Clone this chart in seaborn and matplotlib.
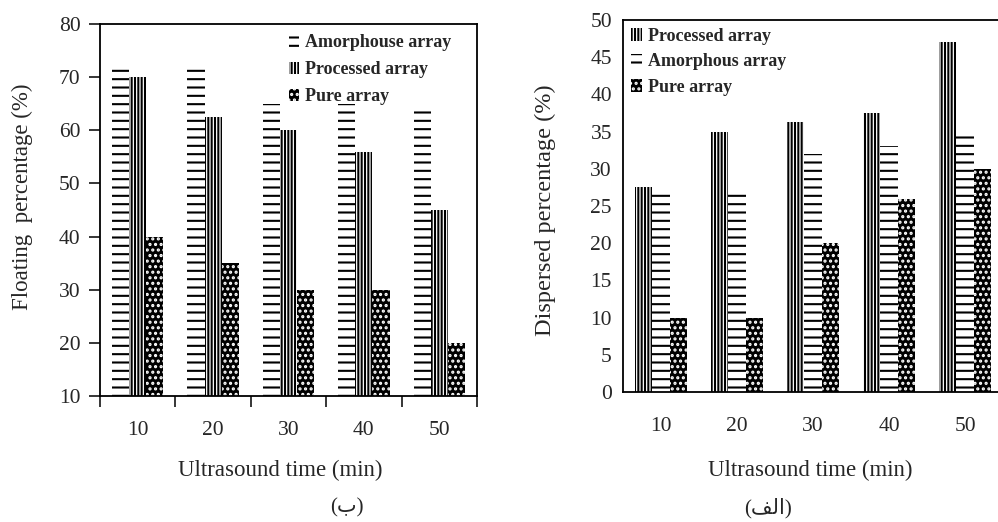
import pandas as pd
import seaborn as sns
import matplotlib.pyplot as plt
from matplotlib.patches import Patch

times = ["10", "20", "30", "40", "50"]

# left panel - floating percentage
float_amorph = [72, 72, 65, 65, 64]
float_proc = [70, 62.5, 60, 56, 45]
float_pure = [40, 35, 30, 30, 20]

# right panel - dispersed percentage
disp_proc = [27.5, 35, 36.3, 37.5, 47]
disp_amorph = [27, 27, 32, 33, 35]
disp_pure = [10, 10, 20, 26, 30]

sns.set_style("white")
plt.rcParams["font.family"] = ["Liberation Serif", "DejaVu Sans"]
plt.rcParams["hatch.linewidth"] = 1.5

hatch_style = {
    "amorph": dict(facecolor="white", edgecolor="black", hatch="--"),
    "proc": dict(facecolor="white", edgecolor="black", hatch="|||||"),
    "pure": dict(facecolor="black", edgecolor="white", hatch="..."),
}


def make_df(series):
    rows = []
    for name, vals in series:
        for t, v in zip(times, vals):
            rows.append({"time": t, "value": v, "series": name})
    return pd.DataFrame(rows)


def draw(ax, series, keys):
    df = make_df(series)
    names = [s[0] for s in series]
    sns.barplot(data=df, x="time", y="value", hue="series", hue_order=names,
                palette=["white"] * 3, width=0.68, gap=0, legend=False, ax=ax,
                err_kws={"linewidth": 0})
    for cont, k in zip(ax.containers, keys):
        for bar in cont:
            bar.set_facecolor(hatch_style[k]["facecolor"])
            bar.set_edgecolor(hatch_style[k]["edgecolor"])
            bar.set_hatch(hatch_style[k]["hatch"])
            bar.set_linewidth(0)
    ax.set_xlim(-0.5, 4.5)
    for sp in ax.spines.values():
        sp.set_linewidth(1.3)
        sp.set_color("black")
    ax.tick_params(axis="x", which="major", length=0, pad=18, labelsize=15.5)
    ax.tick_params(axis="y", labelsize=15.5)
    ax.set_xlabel("Ultrasound time (min)", fontsize=16.5)
    ax.xaxis.label.set_va("center")
    handles = [Patch(linewidth=0, **hatch_style[k]) for k in keys]
    return handles


fig = plt.figure(figsize=(9.98, 5.22), dpi=100)

# left: floating
ax1 = fig.add_axes([100 / 998, 1 - 396 / 522, 377 / 998, 372 / 522])
h1 = draw(ax1, [("Amorphouse array", float_amorph),
                ("Processed array", float_proc),
                ("Pure array", float_pure)], ["amorph", "proc", "pure"])
ax1.set_ylim(10, 80)
ax1.set_yticks(range(10, 81, 10))
ax1.set_xticks([-0.5, 0.5, 1.5, 2.5, 3.5, 4.5], minor=True)
ax1.tick_params(axis="x", which="minor", length=8, width=1.3, direction="out", bottom=True)
ax1.tick_params(axis="y", length=8, width=1.3, direction="out", left=True, pad=6)
ax1.set_ylabel("Floating  percentage (%)", fontsize=16.5)
ax1.yaxis.label.set_va("center")
ax1.yaxis.set_label_coords(-0.207, 0.535)
ax1.xaxis.set_label_coords(0.477, -0.199)
ax1.legend(h1, ["Amorphouse array", "Processed array", "Pure array"],
           loc="upper left", bbox_to_anchor=(0.5, 0.972), frameon=False,
           prop={"weight": "bold", "size": 13}, handlelength=0.6, handleheight=0.7,
           handletextpad=0.3, labelspacing=0.55, borderpad=0, borderaxespad=0)

# right: dispersed
ax2 = fig.add_axes([623 / 998, 1 - 392 / 522, 380 / 998, 372 / 522])
h2 = draw(ax2, [("Processed array", disp_proc),
                ("Amorphous array", disp_amorph),
                ("Pure array", disp_pure)], ["proc", "amorph", "pure"])
ax2.set_ylim(0, 50)
ax2.set_yticks(range(0, 51, 5))
ax2.tick_params(axis="y", length=0, pad=8)
ax2.set_ylabel("Dispersed percentage (%)", fontsize=17.5)
ax2.yaxis.label.set_va("center")
ax2.yaxis.set_label_coords(-0.205, 0.489)
ax2.xaxis.set_label_coords(0.492, -0.21)
ax2.legend(h2, ["Processed array", "Amorphous array", "Pure array"],
           loc="upper left", bbox_to_anchor=(0.022, 0.979), frameon=False,
           prop={"weight": "bold", "size": 13}, handlelength=0.6, handleheight=0.7,
           handletextpad=0.3, labelspacing=0.47, borderpad=0, borderaxespad=0)

# panel captions (Arabic written in visual order with presentation forms)
fig.text(347 / 998, 1 - 508 / 522, "(\u0628)", ha="center", va="center", fontsize=15)
fig.text(768 / 998, 1 - 508 / 522, "(\ufed2\ufedf\ufe8d)", ha="center", va="center", fontsize=15)

fig.savefig("out.png", dpi=100)
